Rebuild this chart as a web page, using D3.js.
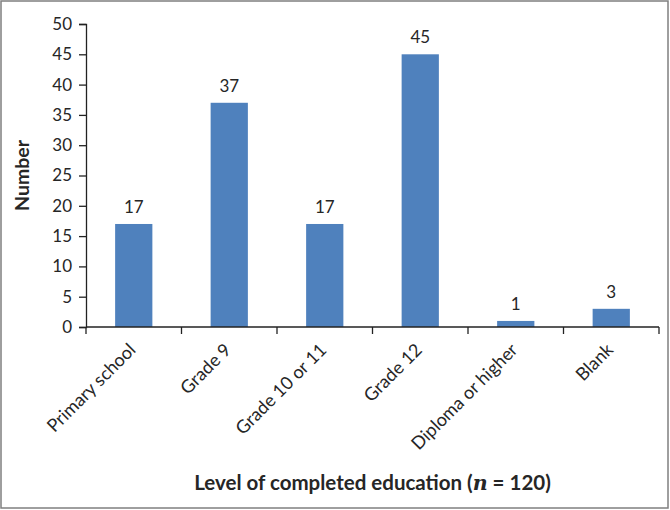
<!DOCTYPE html>
<html><head><meta charset="utf-8">
<script src="https://cdn.jsdelivr.net/npm/d3@7"></script>
<style>body{margin:0;background:#fff}svg{display:block}</style>
</head><body>
<script>
const categories = ["Primary school","Grade 9","Grade 10 or 11","Grade 12","Diploma or higher","Blank"];
const values = [17,37,17,45,1,3];
const yTicks = [0,5,10,15,20,25,30,35,40,45,50];

const W=670,H=510;
const m={left:86,right:11,top:24,bottom:183};
const svg=d3.select("body").append("svg").attr("width",W).attr("height",H);
const font="Lato, 'Open Sans', sans-serif";
const tc="#262626";
svg.append("rect").attr("x",1).attr("y",1).attr("width",667).attr("height",507)
  .attr("fill","#fff").attr("stroke","#7f7f7f").attr("stroke-width",1.5);

const x=d3.scaleBand().domain(categories).range([m.left,W-m.right]).paddingInner(0.61).paddingOuter(0.305);
const y=d3.scaleLinear().domain([0,50]).range([H-m.bottom,m.top]);

svg.selectAll("rect.bar").data(values).enter().append("rect").attr("class","bar")
  .attr("x",(d,i)=>x(categories[i])).attr("width",x.bandwidth())
  .attr("y",d=>y(d)).attr("height",d=>y(0)-y(d)).attr("fill","#4f81bd");

svg.selectAll("text.val").data(values).enter().append("text").attr("class","val")
  .attr("x",(d,i)=>x(categories[i])+x.bandwidth()/2).attr("y",d=>y(d)-11)
  .attr("text-anchor","middle").attr("font-family",font).attr("font-size",17).attr("fill",tc)
  .text(d=>d);

const yAxis=svg.append("g").attr("transform",`translate(${m.left},0)`)
  .call(d3.axisLeft(y).tickValues(yTicks).tickSize(7).tickPadding(7));
yAxis.selectAll("text").attr("font-family",font).attr("font-size",17).attr("fill",tc);
yAxis.selectAll("line,path").attr("stroke","#222").attr("stroke-width",1.3);

// x axis with ticks at band boundaries
const xg=svg.append("g");
xg.append("line").attr("x1",m.left).attr("x2",W-m.right).attr("y1",y(0)).attr("y2",y(0)).attr("stroke","#222").attr("stroke-width",1.3);
const step=x.step();
const bounds=d3.range(categories.length+1).map(i=>m.left+i*step);
xg.selectAll("line.t").data(bounds).enter().append("line").attr("class","t")
  .attr("x1",d=>d).attr("x2",d=>d).attr("y1",y(0)).attr("y2",y(0)+7).attr("stroke","#222").attr("stroke-width",1.3);
xg.selectAll("text").data(categories).enter().append("text")
  .attr("transform",d=>`translate(${x(d)+x.bandwidth()/2+3},${y(0)+24}) rotate(-45)`)
  .attr("text-anchor","end").attr("font-family",font).attr("font-size",18).attr("fill",tc).text(d=>d);

svg.append("text").attr("transform",`translate(29,${(m.top+y(0))/2}) rotate(-90)`)
  .attr("text-anchor","middle").attr("font-family",font).attr("font-weight","bold").attr("font-size",19.5).attr("fill",tc).text("Number");

const xt=svg.append("text").attr("x",(m.left+W-m.right)/2).attr("y",490)
  .attr("text-anchor","middle").attr("font-family",font).attr("font-weight","bold").attr("font-size",20.5).attr("fill",tc);
xt.append("tspan").text("Level of completed education (");
xt.append("tspan").attr("font-style","italic").attr("font-family","'DejaVu Serif', serif").text("n");
xt.append("tspan").text(" = 120)");
</script>
</body></html>
